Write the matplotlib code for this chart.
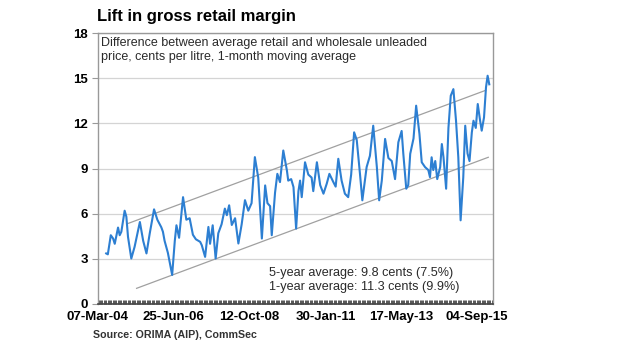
import matplotlib
matplotlib.use("Agg")
import matplotlib.pyplot as plt
import matplotlib.dates as mdates
import pandas as pd

plt.rcParams["font.family"] = ["Liberation Sans", "DejaVu Sans"]

# margin series, decimal year vs cents per litre
years = [
    2004.43, 2004.48, 2004.57, 2004.64, 2004.69, 2004.79, 2004.84, 2004.89, 2004.99, 2005.04,
    2005.09, 2005.19, 2005.29, 2005.45, 2005.55, 2005.65, 2005.75, 2005.88, 2005.98, 2006.10,
    2006.15, 2006.20, 2006.30, 2006.43, 2006.51, 2006.56, 2006.64, 2006.76, 2006.86, 2006.96,
    2007.06, 2007.15, 2007.28, 2007.33, 2007.43, 2007.53, 2007.58, 2007.66, 2007.75, 2007.83,
    2007.93, 2008.03, 2008.09, 2008.16, 2008.24, 2008.34, 2008.44, 2008.54, 2008.64, 2008.74,
    2008.84, 2008.94, 2009.04, 2009.15, 2009.25, 2009.32, 2009.40, 2009.45, 2009.55, 2009.62,
    2009.70, 2009.80, 2009.91, 2009.95, 2010.04, 2010.11, 2010.19, 2010.26, 2010.31, 2010.36,
    2010.46, 2010.56, 2010.66, 2010.71, 2010.82, 2010.92, 2011.02, 2011.12, 2011.20, 2011.32,
    2011.39, 2011.47, 2011.57, 2011.67, 2011.77, 2011.86, 2011.95, 2012.03, 2012.13, 2012.20,
    2012.33, 2012.43, 2012.53, 2012.64, 2012.71, 2012.79, 2012.89, 2012.99, 2013.09, 2013.19,
    2013.29, 2013.39, 2013.44, 2013.53, 2013.59, 2013.65, 2013.75, 2013.83, 2013.93, 2014.00,
    2014.10, 2014.20, 2014.25, 2014.30, 2014.35, 2014.41, 2014.47, 2014.56, 2014.61, 2014.66,
    2014.74, 2014.81, 2014.88, 2014.96, 2015.04, 2015.11, 2015.18, 2015.26, 2015.32, 2015.39,
    2015.45, 2015.52, 2015.57, 2015.64, 2015.70, 2015.77, 2015.82, 2015.89, 2015.95, 2016.00,
    2016.05,
]
margin = [
    3.36, 3.30, 4.57, 4.35, 4.00, 5.08, 4.57, 4.80, 6.20, 5.80,
    4.46, 3.02, 3.80, 5.45, 4.20, 3.36, 4.70, 6.29, 5.60, 5.10,
    4.80, 4.20, 3.40, 1.93, 4.20, 5.23, 4.40, 7.10, 5.60, 5.70,
    4.60, 4.30, 4.13, 3.90, 3.13, 5.12, 4.00, 5.23, 3.02, 4.70,
    5.30, 6.34, 5.90, 6.56, 5.25, 5.70, 4.02, 5.30, 6.90, 6.20,
    6.70, 9.76, 8.40, 4.35, 7.88, 6.70, 6.50, 4.57, 7.40, 8.65,
    8.10, 10.20, 8.87, 8.20, 8.30, 7.77, 5.01, 7.50, 8.20, 7.10,
    9.42, 8.60, 8.40, 7.50, 9.42, 7.90, 7.33, 8.00, 8.65, 8.10,
    7.80, 9.65, 8.20, 7.33, 7.10, 8.60, 11.41, 10.90, 8.60, 6.89,
    9.10, 9.85, 11.85, 9.10, 6.89, 8.20, 10.97, 9.70, 9.50, 8.30,
    10.75, 11.50, 10.00, 7.66, 7.90, 9.98, 11.00, 13.18, 11.30, 9.42,
    9.10, 8.90, 8.43, 9.75, 8.90, 9.50, 8.30, 9.10, 10.63, 9.75,
    7.66, 11.70, 13.84, 14.28, 12.20, 9.75, 5.56, 8.40, 11.85, 10.00,
    9.50, 11.40, 12.18, 11.70, 13.29, 12.20, 11.52, 12.40, 14.40, 15.17,
    14.60,
]

# channel lines drawn on the chart
upper_years = [2005.09, 2015.94]
upper_vals = [5.35, 14.2]
lower_years = [2005.35, 2016.02]
lower_vals = [1.04, 9.75]

x_ticks = ["2004-03-07", "2006-06-25", "2008-10-12", "2011-01-30", "2013-05-17", "2015-09-04"]
x_labels = ["07-Mar-04", "25-Jun-06", "12-Oct-08", "30-Jan-11", "17-May-13", "04-Sep-15"]
y_ticks = [0, 3, 6, 9, 12, 15, 18]


def to_date(y):
    base = pd.Timestamp(f"{int(y)}-01-01")
    return base + pd.Timedelta(days=(y - int(y)) * 365.25)


fig = plt.figure(figsize=(6.2, 3.49), dpi=100)
ax = fig.add_axes([0.158, 0.129, 0.637, 0.776])

ax.plot([to_date(y) for y in upper_years], upper_vals, color="#a0a0a0", lw=0.9)
ax.plot([to_date(y) for y in lower_years], lower_vals, color="#a0a0a0", lw=0.9)
ax.plot([to_date(y) for y in years], margin, color="#2d7fd2", lw=1.5)

ax.set_xlim(pd.Timestamp("2004-03-07"), to_date(2016.16))
ax.set_ylim(0, 18)
ax.set_yticks(y_ticks)
ax.yaxis.grid(True, color="#d4d4d4", lw=0.9)
ax.set_axisbelow(True)

ax.set_xticks([pd.Timestamp(d) for d in x_ticks])
ax.set_xticklabels(x_labels, fontsize=9.5, fontweight="bold")
ax.xaxis.set_minor_locator(mdates.DayLocator(interval=14))
ax.tick_params(axis="x", which="major", length=0, pad=5)
ax.tick_params(axis="x", which="minor", direction="in", length=3, width=0.7, color="#555555")
ax.tick_params(axis="y", length=4, color="#999999", pad=3)
for lab in ax.get_yticklabels():
    lab.set_fontweight("bold")
    lab.set_fontsize(9.5)

for side in ("top", "right", "left"):
    ax.spines[side].set_color("#999999")
    ax.spines[side].set_linewidth(1.0)
ax.spines["bottom"].set_color("#444444")
ax.spines["bottom"].set_linewidth(1.2)

fig.text(0.156, 0.952, "Lift in gross retail margin", fontsize=12, fontweight="bold",
         va="center", ha="left")
ax.text(0.008, 0.985, "Difference between average retail and wholesale unleaded\n"
        "price, cents per litre, 1-month moving average", transform=ax.transAxes,
        fontsize=9, va="top", ha="left", color="#2a2a2a", linespacing=1.15)
ax.text(0.432, 0.088, "5-year average: 9.8 cents (7.5%)\n1-year average: 11.3 cents (9.9%)",
        transform=ax.transAxes, fontsize=9.1, va="center", ha="left", color="#2a2a2a",
        linespacing=1.15)
fig.text(0.15, 0.04, "Source: ORIMA (AIP), CommSec", fontsize=7.7, fontweight="bold",
         va="center", ha="left", color="#333333")

fig.savefig("out.png", dpi=100)
